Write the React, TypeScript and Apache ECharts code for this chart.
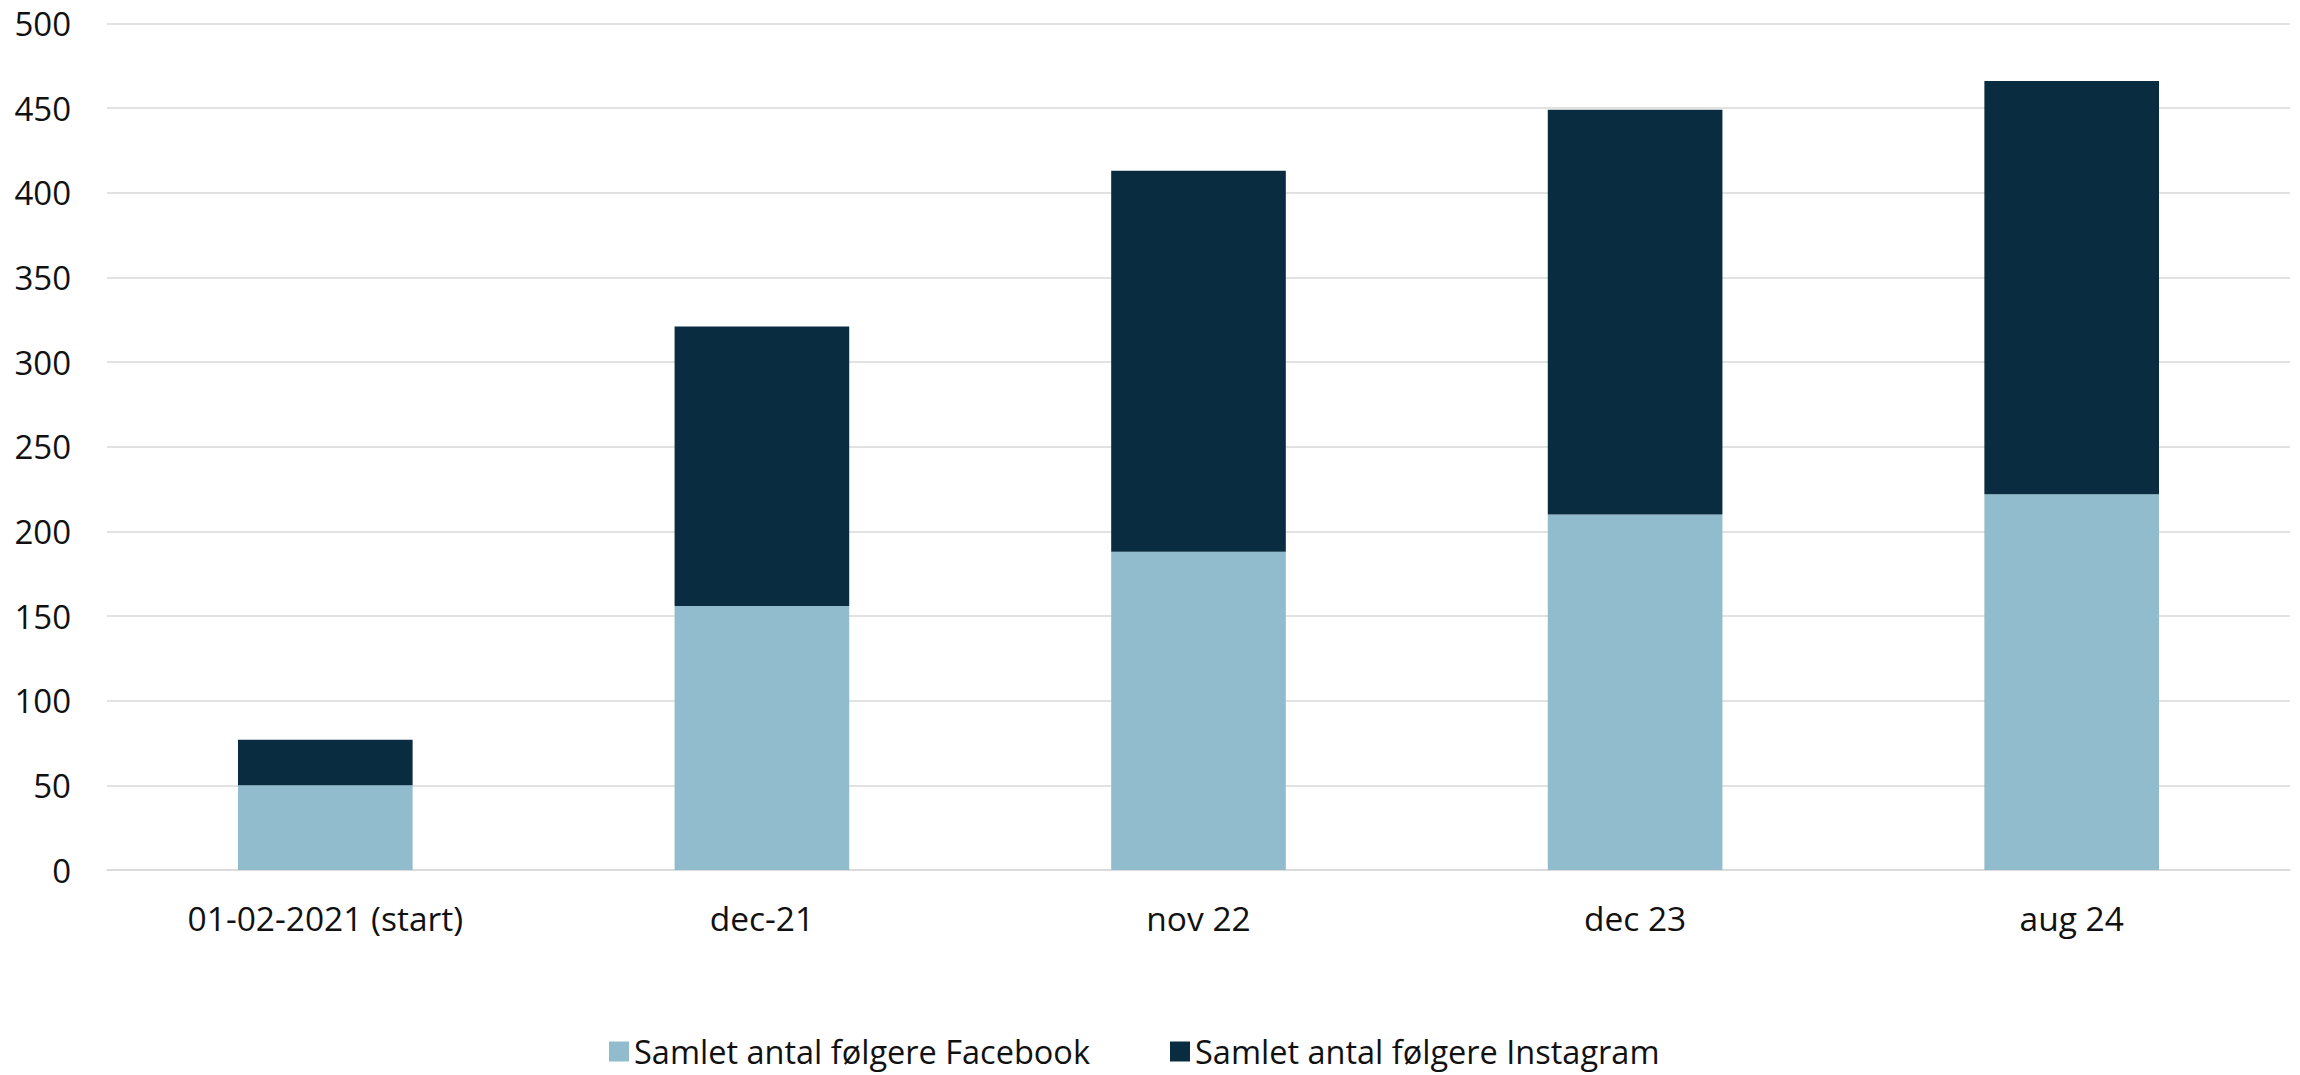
import React, { useEffect, useRef } from "react";
import * as echarts from "echarts";

const categories = ["01-02-2021 (start)", "dec-21", "nov 22", "dec 23", "aug 24"];
const facebook = [50, 156, 188, 210, 222];
const instagram = [27, 165, 225, 239, 244];
const seriesNames = ["Samlet antal følgere Facebook", "Samlet antal følgere Instagram"];
const FONT = "'Open Sans', 'Noto Sans', sans-serif";

export default function App() {
  const ref = useRef<HTMLDivElement>(null);
  useEffect(() => {
    document.body.style.margin = "0";
    const chart = echarts.init(ref.current!, undefined, { renderer: "svg" });
    chart.setOption({
      animation: false,
      backgroundColor: "#ffffff",
      textStyle: { fontFamily: FONT },
      grid: { left: 107, right: 10, top: 23.5, bottom: 205, containLabel: false },
      legend: {
        left: 604,
        bottom: 2,
        itemWidth: 20,
        itemHeight: 20,
        itemGap: 80,
        icon: "rect",
        textStyle: { fontFamily: FONT, fontSize: 32.5, color: "#111111" },
        data: seriesNames,
      },
      xAxis: {
        type: "category",
        data: categories,
        axisLine: { show: true, lineStyle: { color: "#d9d9d9", width: 1.5 } },
        axisTick: { show: false },
        axisLabel: { fontFamily: FONT, fontSize: 33.5, color: "#111111", margin: 31 },
      },
      yAxis: {
        type: "value",
        min: 0,
        max: 500,
        interval: 50,
        axisLine: { show: false },
        axisTick: { show: false },
        splitLine: { lineStyle: { color: "#d9d9d9", width: 1.5 } },
        axisLabel: { fontFamily: FONT, fontSize: 33, color: "#111111", margin: 36 },
      },
      series: [
        {
          name: seriesNames[0],
          type: "bar",
          stack: "total",
          barCategoryGap: "60%",
          data: facebook,
          itemStyle: { color: "#91BCCD" },
        },
        {
          name: seriesNames[1],
          type: "bar",
          stack: "total",
          barCategoryGap: "60%",
          data: instagram,
          itemStyle: { color: "#0A2C40" },
        },
      ],
    });
    return () => chart.dispose();
  }, []);
  return (
    <div
      ref={ref}
      style={{ position: "absolute", left: 0, top: 0, width: 2300, height: 1075 }}
    />
  );
}
